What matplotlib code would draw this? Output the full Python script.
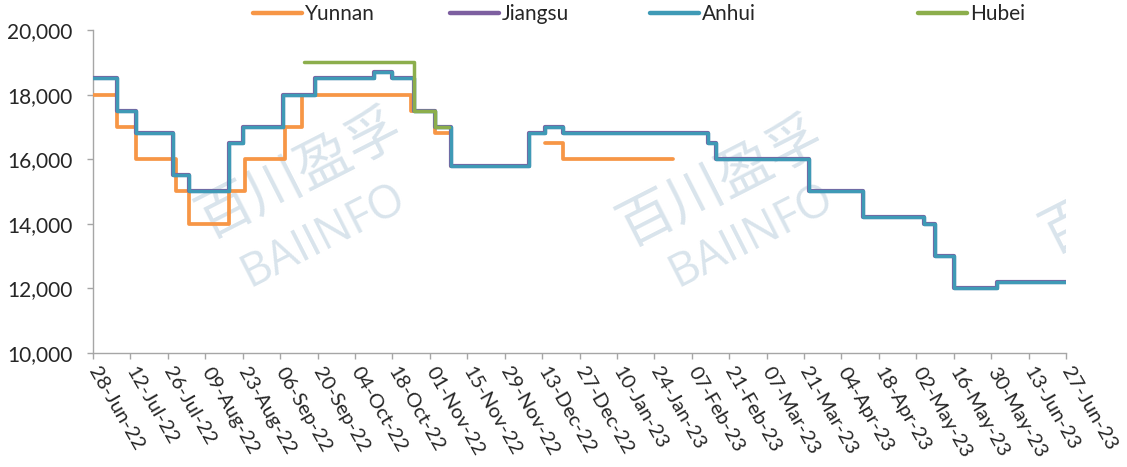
import matplotlib
matplotlib.use('Agg')
import matplotlib.pyplot as plt
import matplotlib.ticker as mticker
from matplotlib.lines import Line2D
import numpy as np
import pandas as pd

# ---------------- data (change points, step series) ----------------
yunnan_dates = ['2022-06-28', '2022-07-07', '2022-07-14', '2022-07-29', '2022-08-03',
                '2022-08-18', '2022-08-24', '2022-09-08', '2022-09-14', '2022-10-25',
                '2022-11-03', '2022-11-09', '2022-12-05', '2022-12-14', '2022-12-21',
                '2023-01-31']
yunnan_values = [18000, 17000, 16000, 15000, 14000, 15000, 16000, 17000, 18000, 17500,
                 16800, 15800, None, 16500, 16000, 16000]

jiangsu_dates = ['2022-06-28', '2022-07-07', '2022-07-14', '2022-07-28', '2022-08-03',
                 '2022-08-18', '2022-08-23', '2022-09-07', '2022-09-19', '2022-10-11',
                 '2022-10-18', '2022-10-26', '2022-11-03', '2022-11-09', '2022-12-08',
                 '2022-12-14', '2022-12-21', '2023-02-13', '2023-02-16', '2023-03-23',
                 '2023-04-12', '2023-05-05', '2023-05-09', '2023-05-16', '2023-06-01',
                 '2023-06-27']
jiangsu_values = [18500, 17500, 16800, 15500, 15000, 16500, 17000, 18000, 18500, 18700,
                  18500, 17500, 17000, 15800, 16800, 17000, 16800, 16500, 16000, 15000,
                  14200, 14000, 13000, 12000, 12200, 12200]

anhui_dates = list(jiangsu_dates)
anhui_values = [18500, 17500, 16800, 15500, 15000, 16500, 17000, 18000, 18500, 18700,
                18500, 17500, 17000, 15800, 16800, 17000, 16800, 16500, 16000, 15000,
                14200, 14000, 13000, 12000, 12200, 12200]

hubei_dates = ['2022-09-15', '2022-10-26', '2022-11-03', '2022-11-08']
hubei_values = [19000, 17500, 17000, 17000]

series_names = ['Yunnan', 'Jiangsu', 'Anhui', 'Hubei']
series_colors = ['#F79646', '#7D5FA0', '#3F9AB6', '#8CAE4C']

x_start = '2022-06-28'
x_end = '2023-06-27'
y_ticks = [10000, 12000, 14000, 16000, 18000, 20000]

# ---------------- figure ----------------
plt.rcParams['font.family'] = ['Lato', 'DejaVu Sans']
fig = plt.figure(figsize=(11.27, 4.67), dpi=100)
ax = fig.add_axes([93/1127, 1 - 353/467, (1066 - 93)/1127, (353 - 30)/467])

# watermark
wm_color = '#D9E4EC'
wm_cjk = ['Noto Sans CJK SC', 'DejaVu Sans']
for (cx, cy), (bx, by) in [((0.213, 0.551), (0.237, 0.362)),
                           ((0.646, 0.529), (0.677, 0.362)),
                           ((1.080, 0.505), (1.109, 0.340))]:
    ax.text(cx, cy, '百川盈孚', transform=ax.transAxes, rotation=27, fontsize=40,
            family=wm_cjk, color=wm_color, ha='center', va='center', zorder=0,
            clip_on=True, rotation_mode='anchor')
    ax.text(bx, by, 'BAIINFO', transform=ax.transAxes, rotation=27, fontsize=33,
            family=['Open Sans', 'DejaVu Sans'], color=wm_color, ha='center', va='center',
            zorder=0, clip_on=True, rotation_mode='anchor')

all_data = [(yunnan_dates, yunnan_values), (jiangsu_dates, jiangsu_values),
            (anhui_dates, anhui_values), (hubei_dates, hubei_values)]
widths = [2.7, 3.0, 2.5, 2.5]
for (d, v), name, col, lw in zip(all_data, series_names, series_colors, widths):
    dd = pd.to_datetime(d)
    vv = np.array([np.nan if x is None else x for x in v], dtype=float)
    ax.plot(dd, vv, drawstyle='steps-post', color=col, lw=lw, label=name,
            solid_capstyle='round', solid_joinstyle='round', zorder=3)

ax.set_xlim(pd.Timestamp(x_start), pd.Timestamp(x_end))
ax.set_ylim(y_ticks[0], y_ticks[-1])
ax.set_yticks(y_ticks)
ax.yaxis.set_major_formatter(mticker.FuncFormatter(lambda v, p: f'{int(v):,}'))

xt = pd.date_range(x_start, x_end, freq='14D')
ax.set_xticks(xt)
ax.set_xticklabels([t.strftime('%d-%b-%y') for t in xt])

for s in ['top', 'right']:
    ax.spines[s].set_visible(False)
for s in ['left', 'bottom']:
    ax.spines[s].set_color('#A6A6A6')
    ax.spines[s].set_linewidth(1.0)

ax.tick_params(axis='y', direction='out', length=4, width=1, color='#A6A6A6',
               labelsize=15, labelcolor='#262626', pad=11)
ax.tick_params(axis='x', direction='out', length=4, width=1, color='#A6A6A6',
               labelsize=14.5, labelcolor='#262626', pad=7)
for lab in ax.get_xticklabels():
    lab.set_rotation(-60)
    lab.set_ha('left')
    lab.set_va('center')
    lab.set_rotation_mode('anchor')

# legend (one entry each, placed like the reference)
leg_x = [253/1127, 450/1127, 650/1127, 918/1127]
for name, col, lx in zip(series_names, series_colors, leg_x):
    h = Line2D([], [], color=col, lw=3.2, solid_capstyle='round')
    fig.legend([h], [name], loc='center left', bbox_to_anchor=(lx, 1 - 14/467),
               frameon=False, fontsize=15, handlelength=2.35, handletextpad=0.15,
               borderpad=0, borderaxespad=0, labelcolor='#262626')

fig.savefig('out.png', dpi=100)
